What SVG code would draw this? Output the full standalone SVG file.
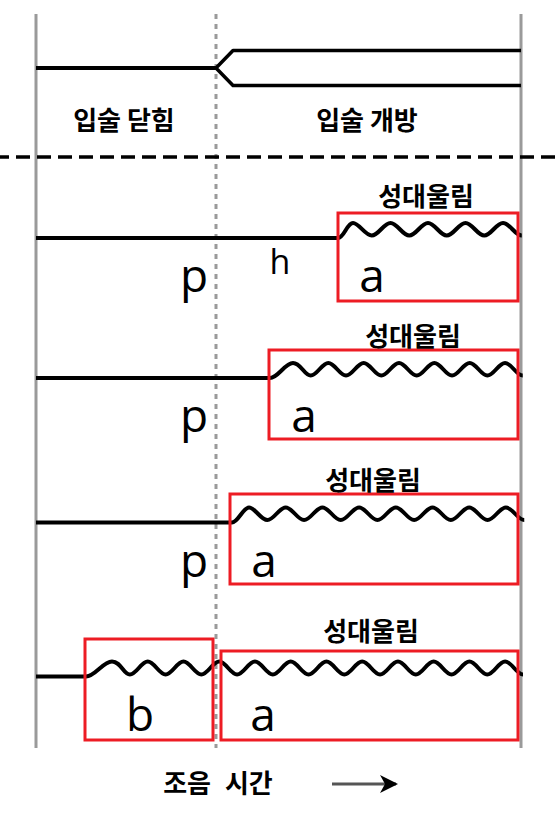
<svg xmlns="http://www.w3.org/2000/svg" width="556" height="821" viewBox="0 0 556 821">
<defs>
<style>
.ko{font-family:"Noto Sans CJK KR","Noto Sans CJK SC",sans-serif;font-weight:700;font-size:26px;text-anchor:middle;fill:#000}
.lt{font-family:"Open Sans","Liberation Sans",sans-serif;font-size:46px;text-anchor:middle;fill:#000}
.vline{stroke:#9a9a9a;stroke-width:3;fill:none}
.dot{stroke:#9a9a9a;stroke-width:3;stroke-dasharray:5 5;fill:none}
.sig{stroke:#000;stroke-width:4;fill:none;stroke-linejoin:round}
.box{stroke:#ed1c24;stroke-width:3;fill:none}
</style>
<marker id="arr" viewBox="0 0 18 18" refX="16" refY="9" markerWidth="18" markerHeight="18" markerUnits="userSpaceOnUse" orient="auto">
<path d="M0,0 L18,9 L0,18 L5,9 Z" fill="#000"/>
</marker>
</defs>
<rect width="556" height="821" fill="#fff"/>
<g id="guides">
<line class="vline" x1="36" y1="14" x2="36" y2="748"/>
<line class="vline" x1="521" y1="14" x2="521" y2="748"/>
<line class="dot" x1="216" y1="14" x2="216" y2="748"/>
<line x1="0" y1="157" x2="556" y2="157" stroke="#000" stroke-width="3.5" stroke-dasharray="14 7" stroke-dashoffset="5"/>
</g>
<g id="connectors">
<path class="sig" d="M36,68 H216" stroke-width="5"/>
<path class="sig" d="M216,68 L233,50.5 H521 M216,68 L233,85.5 H521" style="stroke-width:3.5"/>
<path class="sig" d="M36,238 H338 C344,238 347,223 353,223 s11.95,12.5 18.75,12.5 s11.95,-12.5 18.75,-12.5 s11.95,12.5 18.75,12.5 s11.95,-12.5 18.75,-12.5 s11.95,12.5 18.75,12.5 s11.95,-12.5 18.75,-12.5 s11.95,12.5 18.75,12.5 s11.95,-12.5 18.75,-12.5 s11.95,12.5 18.75,12.5"/>
<path class="sig" d="M36,378 H270 C278,378 285,363 293,363 s11.24,12.5 17.67,12.5 s11.24,-12.5 17.67,-12.5 s11.24,12.5 17.67,12.5 s11.24,-12.5 17.67,-12.5 s11.24,12.5 17.67,12.5 s11.24,-12.5 17.67,-12.5 s11.24,12.5 17.67,12.5 s11.24,-12.5 17.67,-12.5 s11.24,12.5 17.67,12.5 s11.24,-12.5 17.67,-12.5 s11.24,12.5 17.67,12.5 s11.24,-12.5 17.67,-12.5 s11.24,12.5 17.67,12.5"/>
<path class="sig" d="M36,522.5 H232 C238,522.5 243,507.5 249,507.5 s11.67,12.5 18.35,12.5 s11.67,-12.5 18.35,-12.5 s11.67,12.5 18.35,12.5 s11.67,-12.5 18.35,-12.5 s11.67,12.5 18.35,12.5 s11.67,-12.5 18.35,-12.5 s11.67,12.5 18.35,12.5 s11.67,-12.5 18.35,-12.5 s11.67,12.5 18.35,12.5 s11.67,-12.5 18.35,-12.5 s11.67,12.5 18.35,12.5 s11.67,-12.5 18.35,-12.5 s11.67,12.5 18.35,12.5 s11.67,-12.5 18.35,-12.5 s11.67,12.5 18.35,12.5"/>
<path class="sig" d="M36,676.5 H86 C95,676.5 103,661.5 112,661.5 s11.36,13 17.87,13 s11.36,-13 17.87,-13 s11.36,13 17.87,13 s11.36,-13 17.87,-13 s11.36,13 17.87,13 s11.36,-13 17.87,-13 s11.36,13 17.87,13 s11.36,-13 17.87,-13 s11.36,13 17.87,13 s11.36,-13 17.87,-13 s11.36,13 17.87,13 s11.36,-13 17.87,-13 s11.36,13 17.87,13 s11.36,-13 17.87,-13 s11.36,13 17.87,13 s11.36,-13 17.87,-13 s11.36,13 17.87,13 s11.36,-13 17.87,-13 s11.36,13 17.87,13 s11.36,-13 17.87,-13 s11.36,13 17.87,13 s11.36,-13 17.87,-13 s11.36,13 17.87,13"/>
<line x1="332" y1="784" x2="396" y2="784" stroke="#555" stroke-width="3" marker-end="url(#arr)"/>
</g>
<g id="lip-states">
<text class="ko" x="124" y="130">입술 닫힘</text>
<text class="ko" x="367" y="130">입술 개방</text>
</g>
<g id="row1">
<rect class="box" x="338" y="213" width="180" height="88"/>
<text class="ko" x="426" y="206">성대울림</text>
<text class="lt" x="194" y="292">p</text>
<text class="lt" x="280" y="274" style="font-size:34px">h</text>
<text class="lt" x="372" y="292">a</text>
</g>
<g id="row2">
<rect class="box" x="269" y="350" width="249" height="89"/>
<text class="ko" x="413" y="346">성대울림</text>
<text class="lt" x="194" y="432">p</text>
<text class="lt" x="304" y="432">a</text>
</g>
<g id="row3">
<rect class="box" x="230" y="494" width="288" height="90"/>
<text class="ko" x="373" y="490">성대울림</text>
<text class="lt" x="194" y="577">p</text>
<text class="lt" x="264" y="577">a</text>
</g>
<g id="row4">
<rect class="box" x="85" y="639" width="128" height="101"/>
<rect class="box" x="221" y="651" width="297" height="89"/>
<text class="ko" x="371" y="641">성대울림</text>
<text class="lt" x="140" y="731">b</text>
<text class="lt" x="263" y="731">a</text>
</g>
<g id="axis">
<text class="ko" x="218" y="793" word-spacing="8">조음 시간</text>
</g>
</svg>
